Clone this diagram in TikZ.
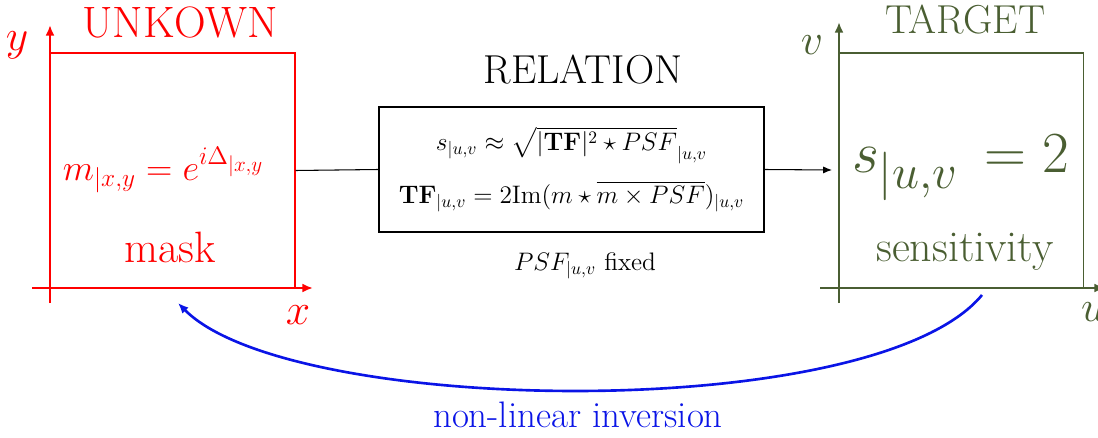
\documentclass[tikz,border=0pt]{standalone}
\usepackage{amsmath, amssymb}
\usepackage{graphicx}
\usepackage{xcolor}
\usetikzlibrary{positioning, calc, arrows.meta}
\definecolor{MaskRed}{HTML}{FF0000}
\definecolor{TargetGreen}{HTML}{4A5E32}
\definecolor{InvBlue}{HTML}{0A14E6}

\begin{document}
\begin{tikzpicture}[
    axis/.style={line width=1.6pt, -{Latex[length=6pt,width=5pt]}},
    field/.style={draw, line width=0.6pt, minimum width=4.9cm, minimum height=4.7cm, inner sep=0pt},
    big/.style={font=\fontsize{23}{28}\selectfont},
    bigger/.style={font=\fontsize{25}{30}\selectfont},
  ]
  \useasboundingbox (0,0) rectangle (21.96,8.74);
  % unknown mask plane
  \node[field, MaskRed] (mask) at (3.45,5.33) {};
  \draw[axis, MaskRed] (1.0,2.68) -- (1.0,8.24);
  \draw[axis, MaskRed] (0.64,2.98) -- (6.26,2.98);
  \node[font=\Huge, text=MaskRed] (ylab) at (0.34,7.84) {$y$};
  \node[font=\Huge, text=MaskRed] (xlab) at (5.96,2.44) {$x$};
  \node[bigger, text=MaskRed] (unk) at (3.6,8.3) {UNKOWN};
  \node[text=MaskRed, font=\huge] (mform) at (3.27,5.34) {$m_{|x,y} = e^{i\Delta_{|x,y}}$};
  \node[bigger, text=MaskRed] (mtxt) at (3.4,3.8) {mask};
  % target sensitivity plane
  \node[field, TargetGreen] (sens) at (19.22,5.33) {};
  \draw[axis, TargetGreen] (16.78,2.68) -- (16.78,8.3);
  \draw[axis, TargetGreen] (16.4,2.98) -- (22.1,2.98);
  \node[font=\Huge, text=TargetGreen] (vlab) at (16.24,7.84) {$v$};
  \node[font=\Huge, text=TargetGreen, anchor=west] (ulab) at (21.5,2.5) {$u$};
  \node[big, text=TargetGreen] (tgt) at (19.3,8.34) {TARGET};
  \node[text=TargetGreen, font=\Huge] (sform) at (19.21,5.38) {\scalebox{1.33}{$s_{|u,v}\,=2$}};
  \node[bigger, text=TargetGreen] (stxt) at (19.3,3.7) {sensitivity};
  % relation box
  \node[draw, line width=0.6pt, minimum width=7.7cm, minimum height=2.5cm, align=center, font=\Large] (rel) at (11.43,5.35)
     {$s_{|u,v} \approx \sqrt{|\mathbf{TF}|^2 \star PSF}_{|u,v}$\\[9pt]
      $\mathbf{TF}_{|u,v} = 2\mathrm{Im}(m\star \overline{m\times PSF})_{|u,v}$};
  \node[big] (reltitle) at (11.66,7.34) {RELATION};
  \node[font=\Large] (psf) at (11.7,3.42) {$PSF_{|u,v}$ fixed};
  \coordinate (sin) at (16.64,5.34);
  \draw[line width=0.6pt] (mask.east) -- (rel.west);
  \draw[line width=0.6pt, -{Latex[length=5pt,width=4pt]}] (rel.east) -- (sin);
  % inversion loop
  \coordinate (ifrom) at (19.64,2.84);
  \coordinate (ito) at (3.56,2.68);
  \draw[InvBlue, line width=1.5pt, -{Latex[length=6pt,width=5pt]}]
     (ifrom) .. controls (17.5,0.25) and (5.8,0.41) .. (ito);
  \node[text=InvBlue, font=\fontsize{21}{25}\selectfont] (inv) at (11.56,0.44) {non-linear inversion};
\end{tikzpicture}
\end{document}
